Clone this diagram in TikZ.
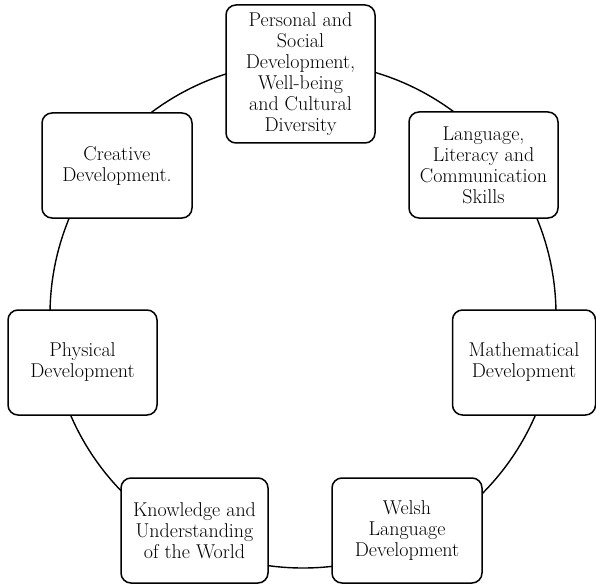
\documentclass[tikz,border=0pt]{standalone}
\begin{document}
\begin{tikzpicture}[x=1pt,y=-1pt,
  area/.style={draw=black, line width=1.5pt, fill=white, rounded corners=10pt,
    align=center, inner sep=2pt, font=\fontsize{20}{21}\selectfont,
    minimum height=105pt},
  ring/.style={draw=black, line width=1.4pt}]
  \useasboundingbox (0,0) rectangle (596,585);
  % the ring that links the learning areas
  \coordinate (hub) at (303,315);
  \draw[ring] (hub) circle (253pt);
  % learning areas
  \node[area, minimum width=149pt, minimum height=138pt] (psd) at (300.5,74)
    {Personal and\\Social\\Development,\\Well-being\\and Cultural\\Diversity};
  \node[area, minimum width=149pt, minimum height=106pt] (llc) at (483.5,165)
    {Language,\\Literacy and\\Communication\\Skills};
  \node[area, minimum width=150pt] (cre) at (117,165.5)
    {Creative\\Development.};
  \node[area, minimum width=149pt] (phy) at (82.5,362.5)
    {Physical\\Development};
  \node[area, minimum width=143pt] (mat) at (524,362.5)
    {Mathematical\\Development};
  \node[area, minimum width=147pt] (kuw) at (194.5,530.5)
    {Knowledge and\\Understanding\\of the World};
  \node[area, minimum width=150pt] (wld) at (407,530.5)
    {Welsh\\Language\\Development};
\end{tikzpicture}
\end{document}
